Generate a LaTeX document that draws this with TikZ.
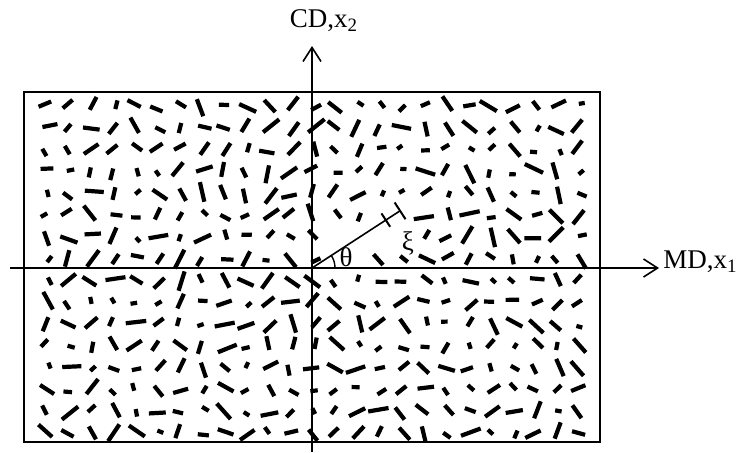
\documentclass[tikz,border=0pt]{standalone}
\usepackage{fontspec}
\setmainfont{Liberation Serif}
\usetikzlibrary{arrows.meta}

\begin{document}
\begin{tikzpicture}[x=0.5pt, y=-0.5pt, >={Straight Barb[length=7pt,width=9pt]},
  every node/.style={font=\fontsize{13.5}{16}\selectfont, inner sep=0pt},
  fibre/.style={line width=2.1pt},
  axis/.style={line width=0.8pt}]
\useasboundingbox (0,0) rectangle (742,452);
\draw[line width=1pt] (24,92) rectangle (600,442);
% short fibres, pseudo random orientation (mostly along MD)
\pgfmathsetseed{2718}
\foreach \i in {0,...,24}{
  \foreach \j in {0,...,15}{
    \pgfmathsetmacro{\cx}{47+22.2*\i+3*rand}
    \pgfmathsetmacro{\cy}{106+21.8*\j+3*rand}
    \pgfmathsetmacro{\ang}{80*rand}
    \pgfmathsetmacro{\len}{3+7.5*rnd}
    % keep the measured fibre and its labels clear
    \pgfmathtruncatemacro{\keep}{or(or(\cx<318,\cx>418),abs((\cx-312)*0.545+(\cy-268)*0.839)>14)
      && (veclen(\cx-346,\cy-257)>16) && (veclen(\cx-408,\cy-243)>16)}
    \ifnum\keep=1
      \draw[fibre] (\cx,\cy) ++(\ang:\len) -- ++(\ang+180:2*\len);
    \fi
  }
}
% axes
\coordinate (O) at (312,268);
\coordinate (xs) at (10,268); \coordinate (xe) at (659,268);
\coordinate (ys) at (312,452); \coordinate (ye) at (312,46);
\draw[axis,->] (xs) -- (xe);
\draw[axis,->] (ys) -- (ye);
\node[anchor=base west] (md) at (663,268) {MD,x\textsubscript{1}};
\node[anchor=base] (cd) at (324,27) {CD,x\textsubscript{2}};
% orientation of one fibre
\path (O) ++(-33:105) coordinate (P);
\path (O) ++(-33:88) coordinate (T);
\draw[line width=0.8pt] (O) -- (P);
\draw[line width=1pt] (T) ++(57:8) -- ++(237:16);
\draw[line width=1pt] (P) ++(57:10) -- ++(237:20);
\draw[line width=0.7pt] (O) ++(23,0) arc[start angle=0, end angle=-33, radius=23];
\node (th) at (346,257) {θ};
\node (xi) at (408,243) {ξ};
\end{tikzpicture}
\end{document}
